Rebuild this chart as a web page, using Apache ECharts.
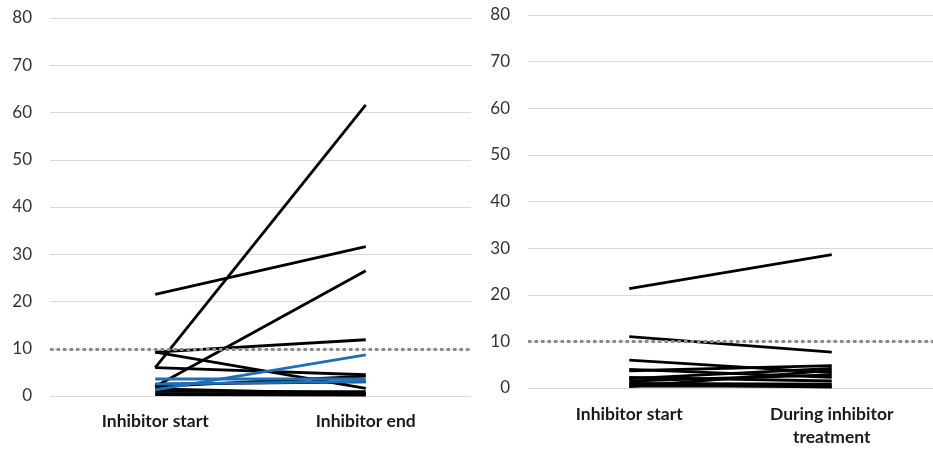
<!DOCTYPE html>
<html>
<head>
<meta charset="utf-8">
<script src="https://cdn.jsdelivr.net/npm/echarts@6/dist/echarts.min.js"></script>
<style>
html,body{margin:0;padding:0;background:#fff;}
#c{width:933px;height:449px;}
</style>
</head>
<body>
<div id="c"></div>
<script>
// ---- data ----
const leftCategories = ['Inhibitor start', 'Inhibitor end'];
const rightCategories = ['Inhibitor start', 'During inhibitor\ntreatment'];
const yTicks = [0, 10, 20, 30, 40, 50, 60, 70, 80];
const thresholdValue = 10;

// left panel: black lines (start value, end value)
const leftBlackStart = [21.5, 6.0, 2.0, 9.3, 9.3, 6.0, 2.5, 2.0, 1.0, 0.5, 0.3, 1.5];
const leftBlackEnd   = [31.6, 61.6, 26.5, 11.9, 1.6, 4.5, 3.0, 4.2, 0.9, 0.3, 0.2, 0.5];
// left panel: blue lines
const leftBlueStart = [3.6, 1.3, 2.5];
const leftBlueEnd   = [3.6, 8.7, 3.1];

// right panel: black lines
const rightStart = [21.3, 11.0, 6.0, 4.0, 3.7, 2.3, 2.0, 1.5, 1.0, 0.4, 0.3, 0.8];
const rightEnd   = [28.6, 7.7, 3.3, 2.3, 4.8, 1.5, 4.2, 2.8, 0.8, 0.4, 3.8, 0.2];

// ---- chart ----
const FONT = 'Lato, "Open Sans", sans-serif';
const BLACK = '#000000';
const BLUE = '#1f6fb8';

function yAxis(gridIndex) {
  return {
    type: 'value', gridIndex, min: yTicks[0], max: yTicks[yTicks.length - 1], interval: yTicks[1] - yTicks[0],
    axisLine: {show: false}, axisTick: {show: false},
    splitLine: {show: true, lineStyle: {color: '#d9d9d9', width: 1}},
    axisLabel: {color: '#333333', fontSize: 17, fontFamily: FONT, margin: 18}
  };
}
function xAxis(gridIndex, cats, margin) {
  return {
    type: 'category', gridIndex, data: cats, boundaryGap: true,
    axisLine: {show: false}, axisTick: {show: false},
    axisLabel: {color: '#1a1a1a', fontSize: 17.5, fontWeight: 'bold', fontFamily: FONT,
                margin, lineHeight: 23, interval: 0}
  };
}
function mark() {
  return {
    silent: true, symbol: ['none', 'none'], label: {show: false},
    lineStyle: {color: '#8c8c8c', width: 3, type: [3.5, 3]},
    data: [{yAxis: thresholdValue}]
  };
}
const series = [];
function addLine(gi, a, b, color, withMark) {
  const s = {
    type: 'line', xAxisIndex: gi, yAxisIndex: gi, data: [a, b],
    symbol: 'none', silent: true, animation: false,
    lineStyle: {color, width: 2.8}, z: color === BLUE ? 4 : 3
  };
  if (withMark) s.markLine = mark();
  series.push(s);
}
leftBlackStart.forEach((v, i) => addLine(0, v, leftBlackEnd[i], BLACK, i === 0));
leftBlueStart.forEach((v, i) => addLine(0, v, leftBlueEnd[i], BLUE, false));
rightStart.forEach((v, i) => addLine(1, v, rightEnd[i], BLACK, i === 0));

const chart = echarts.init(document.getElementById('c'), null, {renderer: 'canvas'});
chart.setOption({
  animation: false,
  backgroundColor: '#ffffff',
  grid: [
    {left: 50, top: 18, width: 421, height: 378},
    {left: 528, top: 15, width: 414, height: 375}
  ],
  xAxis: [xAxis(0, leftCategories, 14), xAxis(1, rightCategories, 15)],
  yAxis: [yAxis(0), yAxis(1)],
  series
});
</script>
</body>
</html>
